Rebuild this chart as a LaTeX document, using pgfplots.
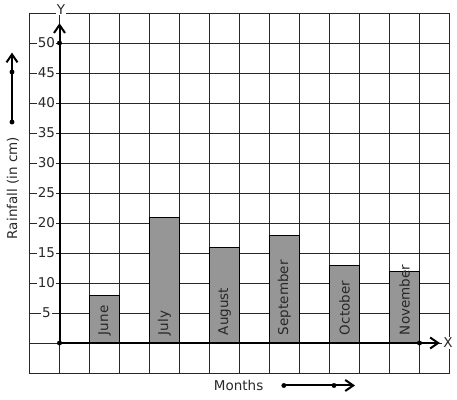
\documentclass[border=0pt]{standalone}
\usepackage{fontspec}
\setmainfont{DejaVu Sans}
\usepackage{pgfplots}
\pgfplotsset{compat=1.18}
\usetikzlibrary{arrows.meta}
\definecolor{barfill}{RGB}{150,150,150}
\definecolor{gridc}{RGB}{40,40,40}
\definecolor{txt}{RGB}{40,40,40}
\begin{document}
\begin{tikzpicture}[font=\fontsize{13.5}{16}\selectfont]
\useasboundingbox (-29.5pt,-26pt) rectangle (427.5pt,373pt);
\begin{axis}[
  at={(0,0)}, anchor=south west,
  scale only axis, width=420pt, height=360pt,
  xmin=-1, xmax=13, ymin=-5, ymax=55,
  clip=false,
  axis line style={gridc, line width=0.7pt},
  xtick={-1,0,...,13}, ytick={-5,0,...,55},
  xticklabels={}, yticklabels={},
  major tick length=0pt,
  grid=major,
  grid style={gridc, line width=0.7pt},
  extra y ticks={5,10,...,50},
  extra y tick style={grid=none, major tick length=0pt,
    yticklabel style={anchor=center, xshift=17pt, fill=white, inner sep=1pt, text=txt, font=\fontsize{13.5}{16}\selectfont}},
  /pgf/number format/assume math mode=true,
]
% bars
\addplot[ybar, bar width=30pt, fill=barfill, draw=black, line width=0.7pt]
  coordinates {(1.5,8) (3.5,21) (5.5,16) (7.5,18) (9.5,13) (11.5,12)};
% bar labels
\node[rotate=90, anchor=west, text=txt, inner sep=0pt] at (axis cs:1.5,1.3) {June};
\node[rotate=90, anchor=west, text=txt, inner sep=0pt] at (axis cs:3.5,1.3) {July};
\node[rotate=90, anchor=west, text=txt, inner sep=0pt] at (axis cs:5.5,1.3) {August};
\node[rotate=90, anchor=west, text=txt, inner sep=0pt] at (axis cs:7.5,1.3) {September};
\node[rotate=90, anchor=west, text=txt, inner sep=0pt] at (axis cs:9.5,1.3) {October};
\node[rotate=90, anchor=west, text=txt, inner sep=0pt] at (axis cs:11.5,1.3) {November};
% axes
\addplot[black, line width=2pt, -{Straight Barb[length=8pt,width=11pt,line width=2pt]}]
  coordinates {(0,0) (0,53.3)};
\addplot[black, line width=2pt, -{Straight Barb[length=8pt,width=11pt,line width=2pt]}]
  coordinates {(0,0) (12.68,0)};
\addplot[only marks, mark=*, mark size=2.2pt, black] coordinates {(0,0) (0,50) (12,0)};
% axis names
\node[fill=white, inner sep=1pt, text=txt] at (axis cs:0.05,55.6) {Y};
\node[fill=white, inner sep=1pt, text=txt] at (axis cs:12.95,0) {X};
% side arrow
\addplot[black, line width=2pt, -{Straight Barb[length=8pt,width=11pt,line width=2pt]}]
  coordinates {(-1.583,36.83) (-1.583,48.4)};
\addplot[only marks, mark=*, mark size=2.2pt, black] coordinates {(-1.583,36.83) (-1.583,45.17)};
\node[rotate=90, text=txt] at (axis cs:-1.55,25.83) {Rainfall (in cm)};
% bottom arrow
\addplot[black, line width=2pt, -{Straight Barb[length=8pt,width=11pt,line width=2pt]}]
  coordinates {(7.48,-7.08) (9.85,-7.08)};
\addplot[only marks, mark=*, mark size=2.2pt, black] coordinates {(7.48,-7.08) (9.15,-7.08)};
\node[text=txt] at (axis cs:5.97,-7.0) {Months};
\end{axis}
\end{tikzpicture}
\end{document}
